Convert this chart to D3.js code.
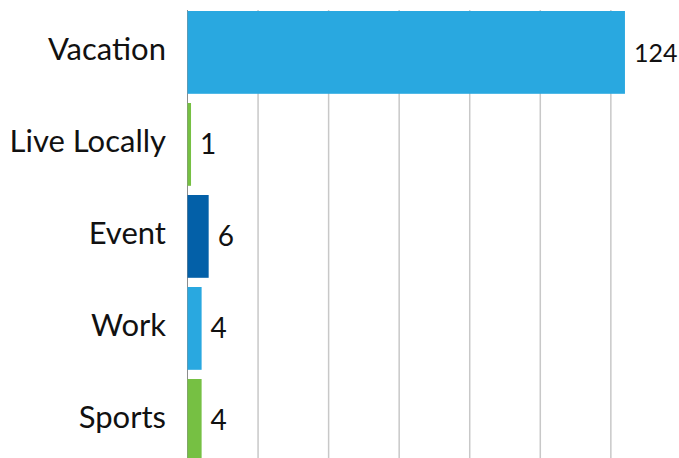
<!DOCTYPE html>
<html>
<head>
<meta charset="utf-8">
<script src="https://cdn.jsdelivr.net/npm/d3@7"></script>
<style>
  body { margin: 0; background: #fff; }
  svg { display: block; font-family: Lato, sans-serif; }
</style>
</head>
<body>
<div id="chart"></div>
<script>
// data
const categories = ["Vacation", "Live Locally", "Event", "Work", "Sports"]
const values = [124, 1, 6, 4, 4]
const bar_colors = ["#29a8e0", "#76c043", "#0360a8", "#29a8e0", "#76c043"]
const grid_ticks = [20, 40, 60, 80, 100, 120]

const width = 679
const height = 458

const svg = d3.select("#chart").append("svg")
    .attr("width", width)
    .attr("height", height)

const x = d3.scaleLinear()
    .domain([0, 140])
    .range([187.5, 681.4])

const y = d3.scaleBand()
    .domain(categories)
    .range([6.4, 466.4])
    .paddingInner(0.1)
    .paddingOuter(0.05)

// vertical gridlines
svg.append("g")
    .selectAll("line")
    .data(grid_ticks)
    .join("line")
    .attr("x1", d => x(d))
    .attr("x2", d => x(d))
    .attr("y1", 10)
    .attr("y2", height)
    .attr("stroke", "#c8c8c8")
    .attr("stroke-width", 1.5)

// axis line
svg.append("line")
    .attr("x1", x(0))
    .attr("x2", x(0))
    .attr("y1", 10)
    .attr("y2", height)
    .attr("stroke", "#8c8c8c")
    .attr("stroke-width", 1)

const rows = categories.map((c, i) => ({name: c, value: values[i], color: bar_colors[i]}))

svg.append("g")
    .selectAll("rect")
    .data(rows)
    .join("rect")
    .attr("x", x(0))
    .attr("y", d => y(d.name))
    .attr("width", d => x(d.value) - x(0))
    .attr("height", y.bandwidth())
    .attr("fill", d => d.color)

// category labels
svg.append("g")
    .selectAll("text")
    .data(rows)
    .join("text")
    .attr("x", 166)
    .attr("y", d => y(d.name) + y.bandwidth() / 2 + 7.5)
    .attr("text-anchor", "end")
    .style("font-size", "31px")
    .style("fill", "#111")
    .text(d => d.name)

// value labels (shrink the one that would run off the right edge)
svg.append("g")
    .selectAll("text")
    .data(rows)
    .join("text")
    .attr("x", d => x(d.value) + 9)
    .attr("y", d => y(d.name) + y.bandwidth() / 2 + 10)
    .style("font-size", d => x(d.value) + 60 > width ? "25px" : "28px")
    .style("fill", "#111")
    .text(d => d.value)
</script>
</body>
</html>
